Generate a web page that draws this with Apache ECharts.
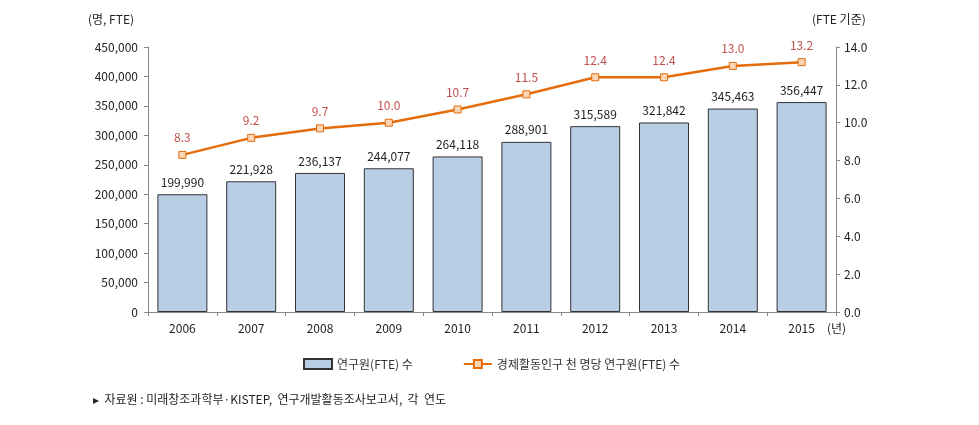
<!DOCTYPE html>
<html><head><meta charset="utf-8">
<script src="https://cdn.jsdelivr.net/npm/echarts@6/dist/echarts.min.js"></script>
<style>html,body{margin:0;padding:0;background:#fff}#c{width:979px;height:425px}</style>
</head><body><div id="c"></div>
<script>
const years = ['2006','2007','2008','2009','2010','2011','2012','2013','2014','2015'];
const researchers = [199990,221928,236137,244077,264118,288901,315589,321842,345463,356447];
const perThousand = [8.3,9.2,9.7,10.0,10.7,11.5,12.4,12.4,13.0,13.2];
const barName = '연구원(FTE) 수';
const lineName = '경제활동인구 천 명당 연구원(FTE) 수';
const font = '"Noto Sans CJK KR", "Noto Sans", sans-serif';
const chart = echarts.init(document.getElementById('c'));
chart.setOption({
  animation:false,
  textStyle:{fontFamily:font},
  grid:{left:148,right:143,top:47,bottom:113},
  legend:{
    top:353,left:298,itemGap:50,itemWidth:28,itemHeight:10,
    textStyle:{fontFamily:font,fontSize:12,color:'#333'},
    data:[{name:barName,icon:'rect'},{name:lineName}]
  },
  xAxis:{
    type:'category',data:years,
    axisLine:{lineStyle:{color:'#888'}},
    axisTick:{show:true,alignWithLabel:false,length:4,lineStyle:{color:'#888'}},
    axisLabel:{color:'#222',fontSize:12,fontFamily:font,margin:10}
  },
  yAxis:[{
    type:'value',min:0,max:450000,interval:50000,
    axisLine:{show:true,lineStyle:{color:'#888'}},
    axisTick:{show:true,length:4,lineStyle:{color:'#888'}},
    splitLine:{show:false},
    axisLabel:{color:'#222',fontSize:12,fontFamily:font,margin:10,
      formatter:v=>v.toLocaleString('en-US')}
  },{
    type:'value',min:0,max:14,interval:2,
    axisLine:{show:true,lineStyle:{color:'#888'}},
    axisTick:{show:true,length:4,lineStyle:{color:'#888'}},
    splitLine:{show:false},
    axisLabel:{color:'#222',fontSize:12,fontFamily:font,margin:8,
      formatter:v=>v.toFixed(1)}
  }],
  series:[{
    name:barName,type:'bar',data:researchers,barWidth:50,yAxisIndex:0,
    itemStyle:{color:'#b9cde5',borderColor:'#333',borderWidth:1},
    label:{show:true,position:'top',distance:6,color:'#222',fontSize:12,fontFamily:font,
      formatter:p=>p.value.toLocaleString('en-US')}
  },{
    name:lineName,type:'line',data:perThousand,yAxisIndex:1,
    symbol:'rect',symbolSize:7,
    lineStyle:{color:'#e46c0a',width:2.5},
    itemStyle:{color:'#fcd5b5',borderColor:'#e46c0a',borderWidth:1},
    label:{show:true,position:'top',distance:7,color:'#c0504d',fontSize:12,fontFamily:font,
      formatter:p=>p.value.toFixed(1)}
  }],
  graphic:[
    {type:'text',left:88,top:13,style:{text:'(명, FTE)',font:'12px '+font,fill:'#222'}},
    {type:'text',left:812,top:13,style:{text:'(FTE 기준)',font:'12px '+font,fill:'#222'}},
    {type:'text',left:827,top:322,style:{text:'(년)',font:'12px '+font,fill:'#222'}},
    {type:'text',left:93,top:393,style:{text:'▸  자료원 : 미래창조과학부·KISTEP,  연구개발활동조사보고서,  각  연도',font:'12px '+font,fill:'#222'}}
  ]
});
</script></body></html>
